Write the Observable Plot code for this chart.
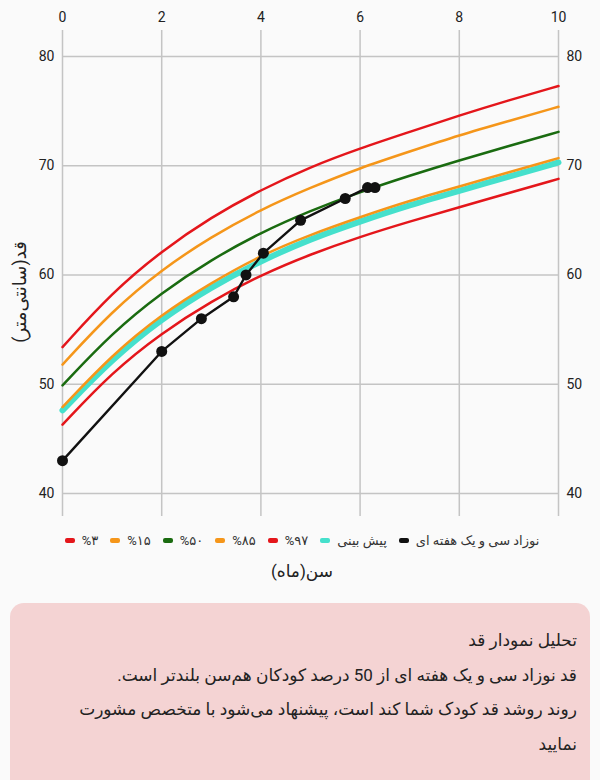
<!DOCTYPE html>
<html>
<head>
<meta charset="utf-8">
<script src="https://cdn.jsdelivr.net/npm/d3@7"></script>
<script src="https://cdn.jsdelivr.net/npm/@observablehq/plot@0.6"></script>
<style>
  html, body { margin: 0; padding: 0; background: #fafafa; }
  body { width: 600px; height: 780px; overflow: hidden; font-family: Roboto, "DejaVu Sans", sans-serif; position: relative; }
  #chart { position: absolute; left: 0; top: 0; }
  #ylabel { position: absolute; left: 19px; top: 292px; transform: translate(-50%, -50%) rotate(-90deg); white-space: nowrap; font-size: 18px; color: #222; direction: rtl; }
  #legend { position: absolute; top: 533px; left: 0; width: 604px; display: flex; justify-content: center; direction: rtl; font-size: 13px; color: #333; }
  .item { display: flex; align-items: center; margin: 0 6px; white-space: nowrap; }
  .sw { width: 10px; height: 5px; border-radius: 2px; margin-right: 7px; }
  #xlabel { position: absolute; top: 561px; left: 0; width: 604px; text-align: center; font-size: 17px; color: #222; direction: rtl; }
  #box { position: absolute; left: 10px; top: 603px; width: 580px; height: 200px; background: #f4d3d3; border-radius: 14px; direction: rtl; box-sizing: border-box; padding: 20px 13px 0 13px; font-size: 17px; color: #222; line-height: 34.5px; }
</style>
</head>
<body>
<div id="chart"></div>
<div id="ylabel">قد(سانتی‌متر)</div>
<div id="legend"></div>
<div id="xlabel">سن(ماه)</div>
<div id="box"></div>
<script>
const months = [0, 1, 2, 3, 4, 5, 6, 7, 8, 9, 10];
const p3  = [46.3, 51.1, 54.7, 57.6, 60.0, 61.9, 63.5, 64.9, 66.2, 67.5, 68.8];
const p15 = [47.9, 52.7, 56.4, 59.3, 61.8, 63.7, 65.3, 66.8, 68.1, 69.4, 70.7];
const p50 = [49.9, 54.7, 58.4, 61.4, 63.9, 65.9, 67.6, 69.1, 70.5, 71.8, 73.1];
const p85 = [51.8, 56.7, 60.5, 63.5, 66.0, 68.0, 69.8, 71.3, 72.8, 74.1, 75.4];
const p97 = [53.4, 58.4, 62.2, 65.3, 67.8, 69.9, 71.6, 73.1, 74.6, 76.0, 77.3];
const predicted = [47.6, 52.3, 56.0, 58.9, 61.3, 63.3, 64.9, 66.4, 67.7, 69.0, 70.3];

const babyAge    = [0, 2, 2.8, 3.45, 3.7, 4.05, 4.8, 5.7, 6.15, 6.3];
const babyLength = [43, 53, 56, 58, 60, 62, 65, 67, 68, 68];

const xTicks = [0, 2, 4, 6, 8, 10];
const yTicks = [40, 50, 60, 70, 80];

const seriesNames = ["%۳", "%۱۵", "%۵۰", "%۸۵", "%۹۷", "پیش بینی", "نوزاد سی و یک هفته ای"];
const seriesColors = ["#e4161b", "#f5961a", "#1a6b10", "#f5961a", "#e4161b", "#45e0cc", "#111111"];

const percentiles = [p3, p15, p50, p85, p97];
const pctRows = percentiles.flatMap((arr, i) => months.map((m, j) => ({month: m, value: arr[j], s: i})));
const predRows = months.map((m, j) => ({month: m, value: predicted[j]}));
const babyRows = babyAge.map((a, i) => ({age: a, len: babyLength[i]}));

const chart = Plot.plot({
  width: 600,
  height: 524,
  marginTop: 30,
  marginBottom: 8,
  marginLeft: 62,
  marginRight: 42,
  style: {background: "transparent", fontFamily: "Roboto, 'DejaVu Sans', sans-serif", fontSize: "14px", color: "#222"},
  x: {domain: [0, 10]},
  y: {domain: [37.89, 82.38]},
  marks: [
    Plot.ruleX(xTicks, {stroke: "#c4c4c4", strokeWidth: 1.5}),
    Plot.ruleY(yTicks, {x1: 0, x2: 10, stroke: "#c4c4c4", strokeWidth: 1.5}),
    Plot.axisX(xTicks, {anchor: "top", tickSize: 0, tickPadding: 9, label: null, fontSize: 14}),
    Plot.axisY(yTicks, {anchor: "left", tickSize: 0, tickPadding: 8, label: null, fontSize: 14}),
    Plot.axisY(yTicks, {anchor: "right", tickSize: 0, tickPadding: 8, label: null, fontSize: 14}),
    Plot.line(predRows, {x: "month", y: "value", stroke: seriesColors[5], strokeWidth: 6, curve: "basis"}),
    Plot.line(pctRows, {x: "month", y: "value", z: "s", stroke: d => seriesColors[d.s], strokeWidth: 2.5, curve: "basis"}),
    Plot.line(babyRows, {x: "age", y: "len", stroke: "#111", strokeWidth: 2.4}),
    Plot.dot(babyRows, {x: "age", y: "len", r: 5.5, fill: "#111"})
  ]
});
document.getElementById("chart").appendChild(chart);

const legend = document.getElementById("legend");
for (let i = seriesNames.length - 1; i >= 0; i--) {
  const it = document.createElement("div");
  it.className = "item";
  it.innerHTML = `<span>${seriesNames[i]}</span><span class="sw" style="background:${seriesColors[i]}"></span>`;
  legend.appendChild(it);
}

const boxLines = [
  "تحلیل نمودار قد",
  "قد نوزاد سی و یک هفته ای از 50 درصد کودکان هم‌سن بلندتر است.",
  "روند روشد قد کودک شما کند است، پیشنهاد می‌شود با متخصص مشورت",
  "نمایید"
];
document.getElementById("box").innerHTML = boxLines.map(t => `<div>${t}</div>`).join("");
</script>
</body>
</html>
